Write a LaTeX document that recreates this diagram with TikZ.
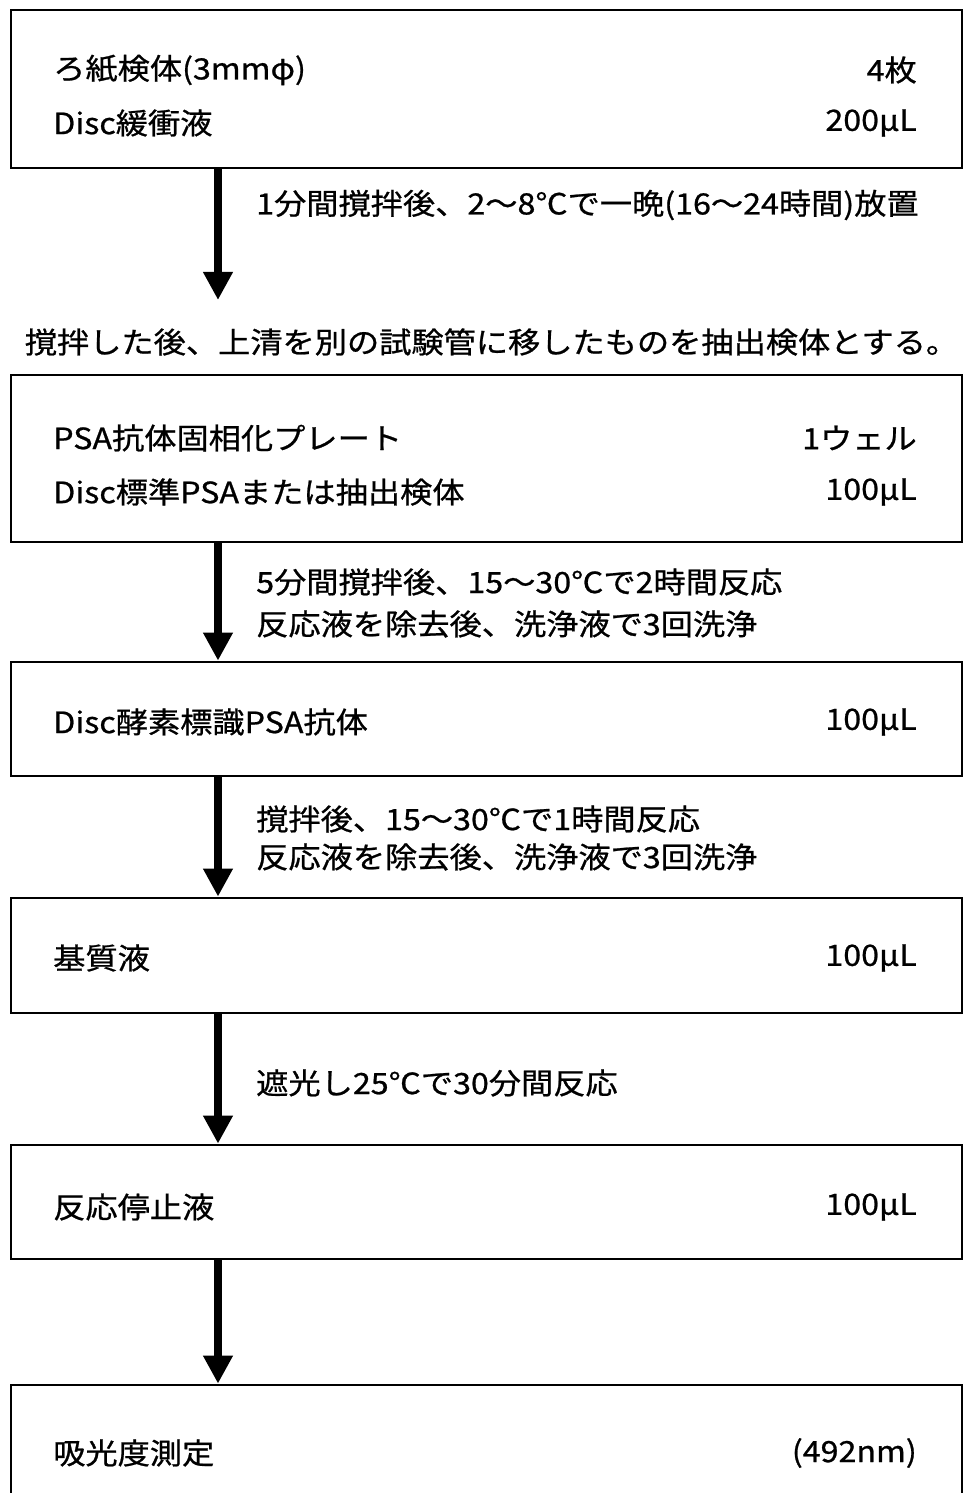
\documentclass[tikz,border=0pt]{standalone}
\usepackage{fontspec}
\setmainfont[FakeStretch=1.1, FakeBold=0.8]{Noto Sans CJK JP}
\usetikzlibrary{arrows.meta}

\tikzset{
    stepbox/.style={draw, line width=2.3pt, minimum width=28.53cm, inner sep=0pt},
    flowarrow/.style={line width=7.5pt, -{Triangle[width=0.84cm,length=0.84cm]}},
    txt/.style={font=\fontsize{25}{29}\selectfont, inner sep=0pt},
}

\begin{document}
\begin{tikzpicture}[x=0.03cm, y=-0.03cm]
    \clip (0,0) rectangle (977,1493);
    \coordinate (ax) at (218,0);

    % boxes
    \node[stepbox, minimum height=4.74cm] (box1) at (486.5,89) {};
    \node[stepbox, minimum height=5.01cm] (box2) at (486.5,458.5) {};
    \node[stepbox, minimum height=3.42cm] (box3) at (486.5,719) {};
    \node[stepbox, minimum height=3.45cm] (box4) at (486.5,955.5) {};
    \node[stepbox, minimum height=3.42cm] (box5) at (486.5,1202) {};
    \node[stepbox, minimum height=4.08cm] (box6) at (486.5,1453) {};

    % box contents
    \node[txt, anchor=west] (b1l1) at (53,70) {ろ紙検体(3mmφ)};
    \node[txt, anchor=east] (b1r1) at (917,70) {4枚};
    \node[txt, anchor=west] (b1l2) at (53,123) {Disc緩衝液};
    \node[txt, anchor=east] (b1r2) at (917,123) {200μL};

    \node[txt, anchor=west] (b2l1) at (53,438) {PSA抗体固相化プレート};
    \node[txt, anchor=east] (b2r1) at (917,438) {1ウェル};
    \node[txt, anchor=west] (b2l2) at (53,492) {Disc標準PSAまたは抽出検体};
    \node[txt, anchor=east] (b2r2) at (917,492) {100μL};

    \node[txt, anchor=west] (b3l) at (53,722) {Disc酵素標識PSA抗体};
    \node[txt, anchor=east] (b3r) at (917,722) {100μL};

    \node[txt, anchor=west] (b4l) at (53,958) {基質液};
    \node[txt, anchor=east] (b4r) at (917,958) {100μL};

    \node[txt, anchor=west] (b5l) at (53,1207) {反応停止液};
    \node[txt, anchor=east] (b5r) at (917,1207) {100μL};

    \node[txt, anchor=west] (b6l) at (53,1453) {吸光度測定};
    \node[txt, anchor=east] (b6r) at (917,1453) {(492nm)};

    % step notes
    \coordinate (a1end) at (218,300);
    \node[txt, anchor=west] (n1) at (256,205) {1分間撹拌後、2〜8℃で一晩(16〜24時間)放置};
    \node[txt] (mid) at (491.5,342) {撹拌した後、上清を別の試験管に移したものを抽出検体とする。};
    \node[txt, anchor=west] (n2a) at (256,582) {5分間撹拌後、15〜30℃で2時間反応};
    \node[txt, anchor=west] (n2b) at (256,624) {反応液を除去後、洗浄液で3回洗浄};
    \node[txt, anchor=west] (n3a) at (256,819) {撹拌後、15〜30℃で1時間反応};
    \node[txt, anchor=west] (n3b) at (256,857) {反応液を除去後、洗浄液で3回洗浄};
    \node[txt, anchor=west] (n4) at (256,1083) {遮光し25℃で30分間反応};

    % arrows
    \draw[flowarrow] (box1.south -| ax) -- (a1end);
    \draw[flowarrow] (box2.south -| ax) -- (box3.north -| ax);
    \draw[flowarrow] (box3.south -| ax) -- (box4.north -| ax);
    \draw[flowarrow] (box4.south -| ax) -- (box5.north -| ax);
    \draw[flowarrow] (box5.south -| ax) -- (box6.north -| ax);
\end{tikzpicture}
\end{document}
